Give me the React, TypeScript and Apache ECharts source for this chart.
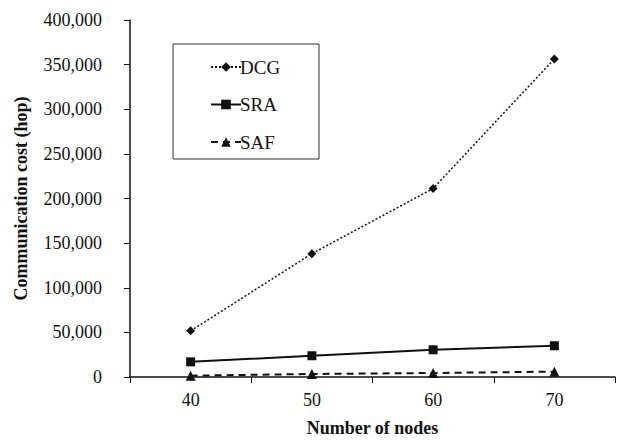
import React, { useEffect, useRef } from "react";
import * as echarts from "echarts";

const categories = ["40", "50", "60", "70"];
const dcg = [51700, 138200, 211200, 356400];
const sra = [17000, 23800, 30500, 35000];
const saf = [1500, 3400, 4500, 6000];

const FONT = "'Liberation Serif', 'Times New Roman', serif";

export default function App() {
  const ref = useRef<HTMLDivElement>(null);
  useEffect(() => {
    if (!ref.current) return;
    const chart = echarts.init(ref.current, undefined, { renderer: "svg" });
    chart.setOption({
      animation: false,
      backgroundColor: "#ffffff",
      textStyle: { fontFamily: FONT },
      grid: { left: 130, right: 3, top: 20, bottom: 64, containLabel: false },
      graphic: [
        {
          type: "rect",
          shape: { x: 173, y: 44, width: 146, height: 115 },
          style: { fill: "#fff", stroke: "#333", lineWidth: 1 },
          z: 5,
        },
      ],
      legend: {
        orient: "vertical",
        left: 205,
        top: 51,
        itemGap: 15.5,
        itemWidth: 30,
        itemHeight: 12,
        z: 10,
        textStyle: { fontFamily: FONT, fontSize: 19, color: "#111", padding: [0, 0, 0, -6], lineHeight: 22 },
        data: ["DCG", "SRA", "SAF"],
      },
      xAxis: {
        type: "category",
        data: categories,
        boundaryGap: true,
        name: "Number of nodes",
        nameLocation: "middle",
        nameGap: 42,
        nameTextStyle: { fontFamily: FONT, fontSize: 18, fontWeight: "bold", color: "#111" },
        axisLine: { lineStyle: { color: "#111", width: 1.5 } },
        axisTick: { show: true, alignWithLabel: false, length: 6, inside: false, lineStyle: { color: "#111" } },
        axisLabel: { fontFamily: FONT, fontSize: 18, color: "#111", margin: 14 },
        splitLine: { show: false },
      },
      yAxis: {
        type: "value",
        min: 0,
        max: 400000,
        interval: 50000,
        name: "Communication cost (hop)",
        nameLocation: "middle",
        nameGap: 100,
        nameTextStyle: { fontFamily: FONT, fontSize: 18, fontWeight: "bold", color: "#111" },
        axisLine: { show: true, lineStyle: { color: "#111", width: 1.5 } },
        axisTick: { show: true, length: 6, lineStyle: { color: "#111" } },
        axisLabel: {
          fontFamily: FONT,
          fontSize: 18,
          color: "#111",
          margin: 28,
          formatter: (v: number) => v.toLocaleString("en-US"),
        },
        splitLine: { show: false },
      },
      series: [
        {
          name: "DCG",
          type: "line",
          data: dcg,
          symbol: "diamond",
          symbolSize: 9,
          lineStyle: { color: "#111", width: 1.5, type: [2, 2] },
          itemStyle: { color: "#111" },
        },
        {
          name: "SRA",
          type: "line",
          data: sra,
          symbol: "rect",
          symbolSize: 9,
          lineStyle: { color: "#111", width: 2, type: "solid" },
          itemStyle: { color: "#111" },
        },
        {
          name: "SAF",
          type: "line",
          data: saf,
          symbol: "triangle",
          symbolSize: 10,
          lineStyle: { color: "#111", width: 2, type: [7, 5] },
          itemStyle: { color: "#111" },
        },
      ],
    });
    return () => chart.dispose();
  }, []);
  return <div ref={ref} style={{ width: 618, height: 442, position: "absolute", left: 0, top: 0 }} />;
}
